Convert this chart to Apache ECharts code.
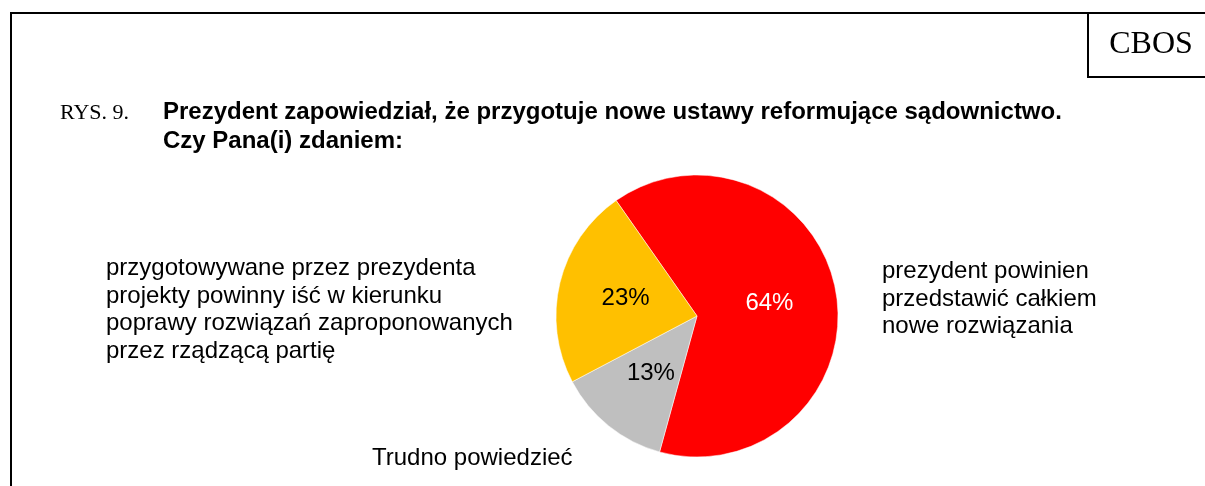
<!DOCTYPE html>
<html>
<head>
<meta charset="utf-8">
<script src="https://cdn.jsdelivr.net/npm/echarts@6/dist/echarts.min.js"></script>
<style>
  html, body { margin: 0; padding: 0; background: #fff; }
  #chart { width: 1205px; height: 486px; }
</style>
</head>
<body>
<div id="chart"></div>
<script>
// data
const categories = [
  'prezydent powinien\nprzedstawić całkiem\nnowe rozwiązania',
  'Trudno powiedzieć',
  'przygotowywane przez prezydenta\nprojekty powinny iść w kierunku\npoprawy rozwiązań zaproponowanych\nprzez rządzącą partię'
]
const values = [64, 13, 23]
const colors = ['#ff0000', '#bfbfbf', '#ffc000']
const labelColors = ['#ffffff', '#000000', '#000000']

// where each category name block sits (left x, middle y)
const namePos = [[882, 299], [372, 458], [106, 310]]

const chart = echarts.init(document.getElementById('chart'))

const sans = '"Liberation Sans", Arial, sans-serif'
const serif = '"Liberation Serif", "Times New Roman", serif'

const nameTexts = categories.map((c, i) => ({
  type: 'text',
  x: namePos[i][0],
  y: namePos[i][1],
  style: { text: c, font: '24px ' + sans, fill: '#000', lineHeight: 27.5, verticalAlign: 'middle' }
}))

const option = {
  animation: false,
  graphic: [
    // frame
    { type: 'line', shape: { x1: 10, y1: 13, x2: 1205, y2: 13 }, style: { stroke: '#000', lineWidth: 2 } },
    { type: 'line', shape: { x1: 11, y1: 12, x2: 11, y2: 486 }, style: { stroke: '#000', lineWidth: 2 } },
    { type: 'line', shape: { x1: 1088, y1: 13, x2: 1088, y2: 77 }, style: { stroke: '#000', lineWidth: 2 } },
    { type: 'line', shape: { x1: 1087, y1: 77, x2: 1205, y2: 77 }, style: { stroke: '#000', lineWidth: 2 } },
    { type: 'text', x: 1151, y: 45, style: { text: 'CBOS', font: '32px ' + serif, fill: '#000', align: 'center', verticalAlign: 'middle' } },
    { type: 'text', x: 60, y: 113, style: { text: 'RYS. 9.', font: '22px ' + serif, fill: '#000', verticalAlign: 'middle' } },
    {
      type: 'text', x: 163, y: 127,
      style: {
        text: 'Prezydent zapowiedział, że przygotuje nowe ustawy reformujące sądownictwo.\nCzy Pana(i) zdaniem:',
        font: 'bold 24px ' + sans, fill: '#000', lineHeight: 29, verticalAlign: 'middle'
      }
    },
    ...nameTexts
  ],
  series: [{
    type: 'pie',
    center: [697, 316],
    radius: 141,
    startAngle: 125,
    clockwise: true,
    avoidLabelOverlap: false,
    data: values.map((v, i) => ({
      value: v,
      name: categories[i],
      itemStyle: { color: colors[i] },
      label: { color: labelColors[i] }
    })),
    itemStyle: { borderColor: '#fff', borderWidth: 0.5 },
    label: {
      show: true,
      position: 'inside',
      formatter: '{c}%',
      fontFamily: sans,
      fontSize: 24
    },
    labelLine: { show: false },
    emphasis: { disabled: true }
  }]
}

chart.setOption(option)
</script>
</body>
</html>
